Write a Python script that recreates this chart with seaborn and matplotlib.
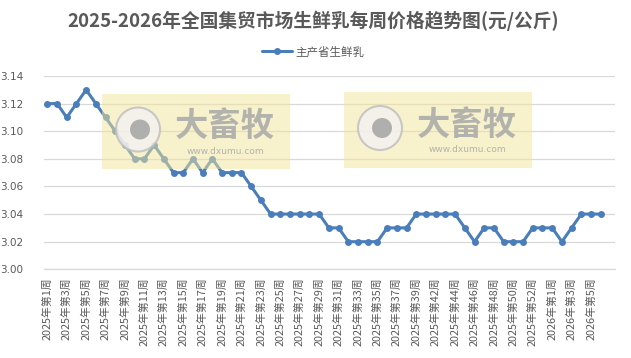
import matplotlib
matplotlib.use("Agg")
import matplotlib.pyplot as plt
from matplotlib.patches import Rectangle, Circle
from matplotlib.transforms import IdentityTransform
import seaborn as sns
import pandas as pd

# ---- data ----
weeks = ([f"2025年第{w}周" for w in range(1, 40)]
         + ["2025年第41周"]
         + [f"2025年第{w}周" for w in range(42, 54)]
         + [f"2026年第{w}周" for w in range(1, 7)])
prices = [3.12, 3.12, 3.11, 3.12, 3.13, 3.12, 3.11, 3.10, 3.09, 3.08,
          3.08, 3.09, 3.08, 3.07, 3.07, 3.08, 3.07, 3.08, 3.07, 3.07,
          3.07, 3.06, 3.05, 3.04, 3.04, 3.04, 3.04, 3.04, 3.04, 3.03,
          3.03, 3.02, 3.02, 3.02, 3.02, 3.03, 3.03, 3.03, 3.04, 3.04,
          3.04, 3.04, 3.04, 3.03, 3.02, 3.03, 3.03, 3.02, 3.02, 3.02,
          3.03, 3.03, 3.03, 3.02, 3.03, 3.04, 3.04, 3.04]
series_name = "主产省生鲜乳"
title = "2025-2026年全国集贸市场生鲜乳每周价格趋势图(元/公斤)"
yticks = [3.00, 3.02, 3.04, 3.06, 3.08, 3.10, 3.12, 3.14]

df = pd.DataFrame({"idx": range(len(prices)), "price": prices, "series": series_name})

sns.set_theme(style="white")
plt.rcParams['font.family'] = ['Noto Sans CJK SC', 'DejaVu Sans']

W, H = 631, 358
fig = plt.figure(figsize=(W / 100, H / 100), dpi=100)
fig.patch.set_facecolor("white")
ax = fig.add_axes([44 / W, 1 - 269.3 / H, (615.3 - 44) / W, (269.3 - 76) / H])

blue = "#4A7EBB"
gray = "#595959"
sns.lineplot(data=df, x="idx", y="price", hue="series", palette=[blue], ax=ax,
             marker="o", markersize=5, markeredgewidth=0, linewidth=2.2, zorder=3)

ax.set_xlim(-0.34, len(prices) + 0.5)
ax.set_ylim(3.00, 3.14)
ax.set_yticks(yticks)
ax.set_yticklabels([f"{v:.2f}" for v in yticks], fontsize=7.5, color=gray,
                   family=['DejaVu Sans'])
ax.set_xticks(range(0, len(weeks), 2))
ax.set_xticklabels(weeks[::2], rotation=90, fontsize=7.8, color=gray)
ax.tick_params(axis="both", length=0)
ax.tick_params(axis="y", pad=15)
ax.tick_params(axis="x", pad=6)
ax.set_xlabel("")
ax.set_ylabel("")
ax.yaxis.grid(True, color="#D9D9D9", linewidth=0.9)
ax.xaxis.grid(False)
for s in ["top", "right", "left"]:
    ax.spines[s].set_visible(False)
ax.spines["bottom"].set_color("#D9D9D9")
ax.spines["bottom"].set_linewidth(0.9)

handles, labels = ax.get_legend_handles_labels()
ax.legend(handles, labels, loc="center", bbox_to_anchor=(0.497, 1 - 52 / H),
          bbox_transform=fig.transFigure, frameon=False, fontsize=8.3,
          labelcolor=gray, handlelength=2.6, handletextpad=0.3)

fig.text(0.497, 1 - 21 / H, title, ha="center", va="center", fontsize=13.5,
         fontweight="bold", color=gray)

# ---- watermarks (pixel coordinates, y from top) ----
ident = IdentityTransform()

def px(x, y):
    return x / W, 1 - y / H

def disp(x, y):
    return x, H - y

for (x0, x1, y0, y1) in [(102, 290, 94, 169), (344, 532, 92, 168)]:
    fx, fy = px(x0, y1)
    rect = Rectangle((fx, fy), (x1 - x0) / W, (y1 - y0) / H, transform=fig.transFigure,
                     facecolor="#F1E49A", edgecolor="none", alpha=0.5, zorder=10)
    fig.add_artist(rect)
    cx, cy = x0 + 36, (y0 + y1) / 2 - 2
    ring = Circle(disp(cx, cy), 22, transform=ident, facecolor="#F2F2F2",
                  edgecolor="#BDBDBD", linewidth=1.5, alpha=0.8, zorder=11)
    fig.add_artist(ring)
    dot = Circle(disp(cx + 2, cy), 10, transform=ident, facecolor="#A8A8A8",
                 edgecolor="none", alpha=0.9, zorder=12)
    fig.add_artist(dot)
    tx, ty = px(x0 + 123, cy - 3)
    fig.text(tx, ty, "大畜牧", ha="center", va="center", fontsize=24, fontweight="bold",
             color="#A8A8A8", alpha=0.85, zorder=12)
    wx, wy = px(x0 + 123, cy + 22)
    fig.text(wx, wy, "www.dxumu.com", ha="center", va="center", fontsize=6.5,
             color="#A8A8A8", alpha=0.85, zorder=12, family=['DejaVu Sans'])

fig.savefig("out.png", dpi=100, facecolor="white")
